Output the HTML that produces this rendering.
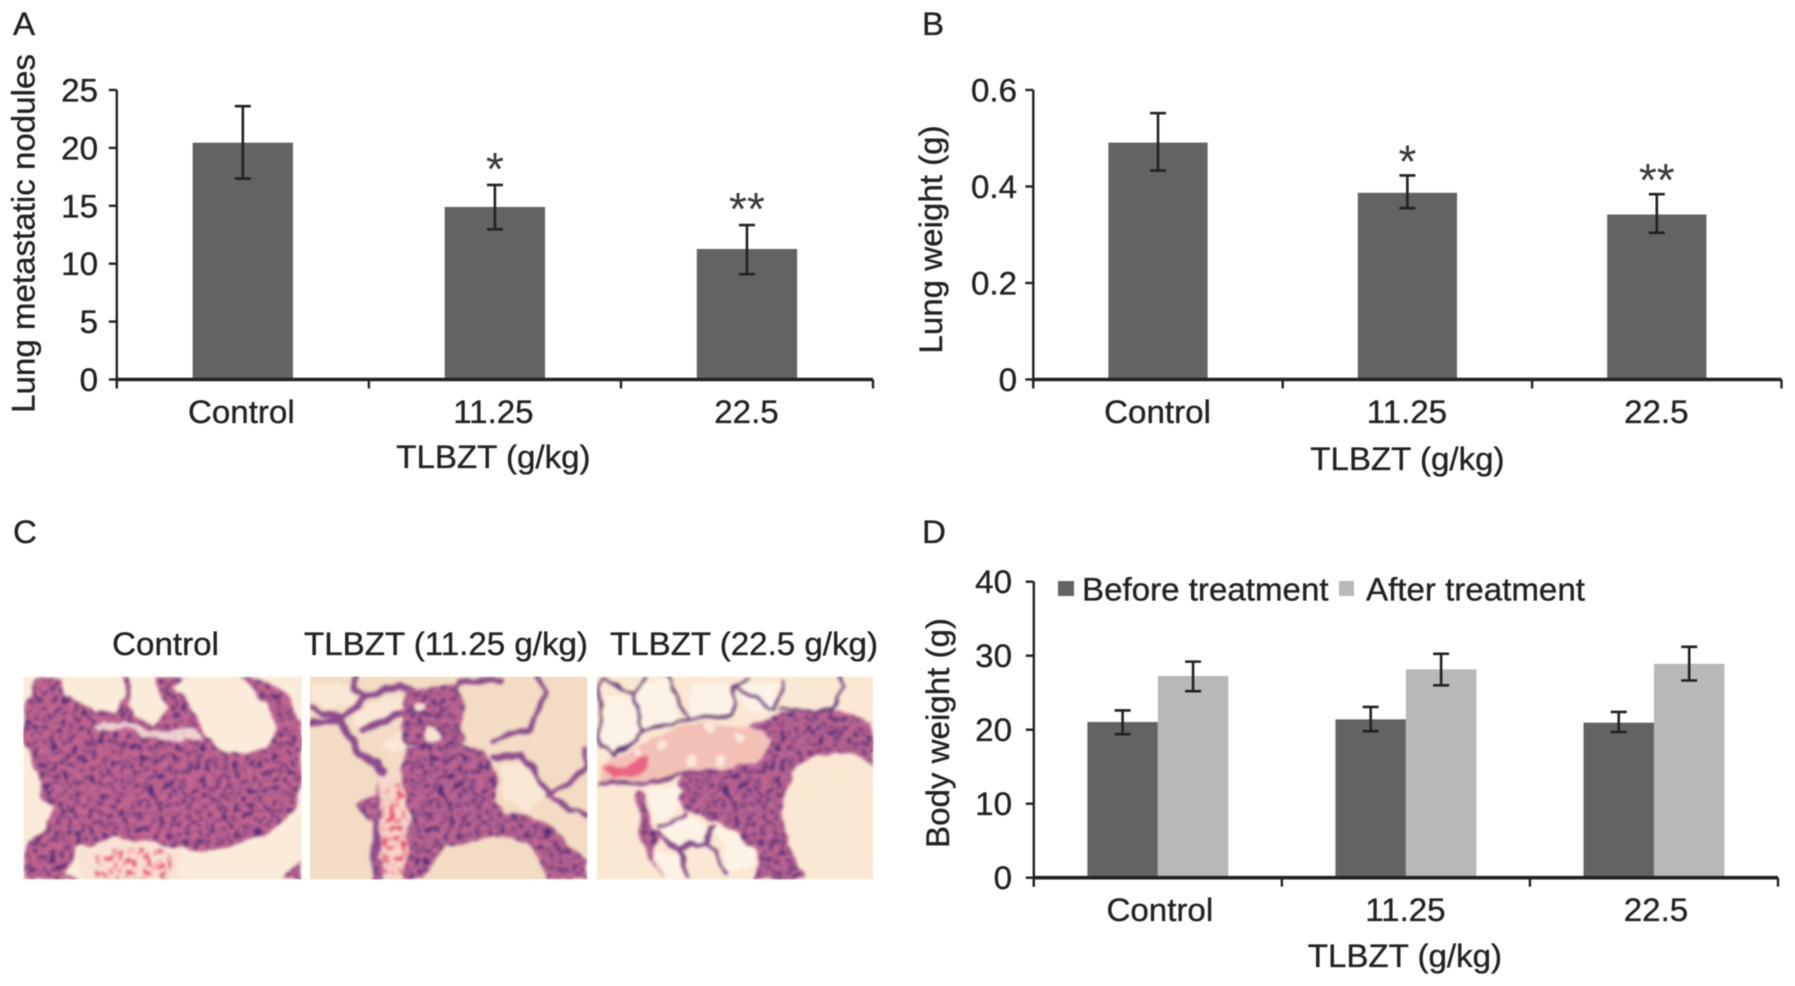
<!DOCTYPE html>
<html lang="en">
<head>
<meta charset="utf-8">
<title>TLBZT lung metastasis figure</title>
<style>
html,body{margin:0;padding:0;background:#fff;width:1795px;height:986px;overflow:hidden}
#figure{display:block;filter:blur(.6px)}
text{font-family:"Liberation Sans",sans-serif;fill:#222;stroke:#222;stroke-width:.35px}
</style>
</head>
<body>
<svg id="figure" xmlns="http://www.w3.org/2000/svg" width="1795" height="986" viewBox="0 0 1795 986">
  <defs>
    <filter id="nuclei" x="0" y="0" width="100%" height="100%" color-interpolation-filters="sRGB">
      <feTurbulence type="fractalNoise" baseFrequency="0.07" numOctaves="2" seed="7"/>
      <feColorMatrix type="matrix" values="0 0 0 0 .29  0 0 0 0 .16  0 0 0 0 .45  5 0 0 0 -2.45"/>
    </filter>
    <filter id="specks" x="0" y="0" width="100%" height="100%" color-interpolation-filters="sRGB">
      <feTurbulence type="fractalNoise" baseFrequency="0.06" numOctaves="2" seed="3"/>
      <feColorMatrix type="matrix" values="0 0 0 0 .9  0 0 0 0 .3  0 0 0 0 .42  6 0 0 0 -3"/>
    </filter>
    <filter id="soften" x="-5%" y="-5%" width="110%" height="110%" color-interpolation-filters="sRGB">
      <feTurbulence type="fractalNoise" baseFrequency="0.018" numOctaves="2" seed="11" result="warp"/>
      <feDisplacementMap in="SourceGraphic" in2="warp" scale="34" xChannelSelector="R" yChannelSelector="G" result="bent"/>
      <feGaussianBlur in="bent" stdDeviation="4.4"/>
    </filter>
    <clipPath id="clip-a"><path d="M40 130L70 100 80 55 150 50 165 110 230 150 320 155 340 110 338 50 350 50 355 130 385 175 440 195 465 150 440 50 520 50 495 85 540 130 560 170 580 220 640 270 700 285 770 260 800 200 770 130 690 50 740 55 800 75 850 120 875 200 875 400 850 450 790 510 700 550 620 570 520 570 420 540 300 540 200 560 170 640 205 658 40 658 40 560 110 500 130 440 100 420 60 280 40 240Z M815 658L875 600 875 658Z"/></clipPath>
    <clipPath id="clip-b"><path d="M320 260L400 240 470 250 550 270 590 340 590 420 620 460 700 470 760 510 862 600 862 658 740 658 700 560 640 530 560 540 440 555 410 600 370 658 310 658 320 560 335 470 310 400 300 330Z M320 90L480 70 490 250 320 250 300 200Z M170 435L240 405 245 470 205 480Z M215 658L230 560 245 590 250 658Z"/></clipPath>
    <clipPath id="clip-c"><path d="M500 190L640 150 760 155 865 190 865 320 800 280 680 290 620 330 600 420 595 520 655 658 500 658 530 610 480 530 380 480 300 450 280 420 290 345 440 330 530 300 560 240Z M150 390L185 400 195 500 225 530 200 600 240 658 190 600 165 510Z"/></clipPath>
    <clipPath id="frame-a"><rect x="40" y="50" width="835" height="608"/></clipPath>
    <clipPath id="frame-b"><rect x="30" y="50" width="832" height="608"/></clipPath>
    <clipPath id="frame-c"><rect x="35" y="50" width="830" height="608"/></clipPath>
  </defs>

  <g id="histology">
    <g transform="translate(10,660) scale(.33333)" clip-path="url(#frame-a)">
      <rect x="40" y="50" width="835" height="608" fill="#fbecd9"/>
      <g filter="url(#soften)">
        <g clip-path="url(#clip-a)">
          <rect x="0" y="0" width="920" height="700" fill="#c4668f"/>
          <rect x="0" y="0" width="920" height="700" filter="url(#nuclei)"/>
        </g>
        <path d="M250 190L330 190 420 205 555 205 580 235 500 245 420 235 340 210 260 215Z" fill="#f9e6dc" opacity=".85"/>
        <path d="M205 570L300 545 420 545 520 590 500 658 205 658Z" fill="#f9e2d4"/>
        <rect x="260" y="570" width="220" height="85" filter="url(#specks)"/>
      </g>
    </g>
    <g transform="translate(300,660) scale(.33333)" clip-path="url(#frame-b)">
      <rect x="30" y="50" width="832" height="608" fill="#f3dcc3"/>
      <g filter="url(#soften)">
        <path d="M45 70H150L170 120 90 150 40 120Z M150 160L300 100 310 140 190 210Z M240 260L300 210 320 250 280 280Z M600 310L680 310 740 410 690 460 610 420Z" fill="#f9e8d4"/>
        <g fill="none" stroke="#8a4a8c" stroke-linecap="round" stroke-linejoin="round">
          <path stroke-width="20" d="M30 140L70 160 130 170 200 110 300 75 330 90M165 50L160 80 190 115M30 195L100 185 130 170M190 210L320 150M480 65L600 60"/>
          <path stroke-width="26" d="M115 170L165 270 250 330 235 470 225 658"/>
          <path stroke-width="15" d="M580 290L660 280 760 420 862 470M580 240L680 210 740 100 710 50M740 410L862 320 850 260"/>
          <path stroke-width="14" d="M320 260L345 440 320 560"/>
        </g>
        <g clip-path="url(#clip-b)">
          <rect x="0" y="0" width="920" height="700" fill="#bd6590"/>
          <rect x="0" y="0" width="920" height="700" filter="url(#nuclei)"/>
        </g>
        <path d="M235 340L290 350 325 480 325 560 300 658 250 658 240 500Z" fill="#f6d6c8"/>
        <rect x="245" y="380" width="75" height="260" filter="url(#specks)"/>
        <circle cx="395" cy="225" r="26" fill="#f7e3d2"/>
        <circle cx="360" cy="140" r="18" fill="#f7e3d2"/>
      </g>
    </g>
    <g transform="translate(585,660) scale(.33333)" clip-path="url(#frame-c)">
      <rect x="35" y="50" width="830" height="608" fill="#fbe8d3"/>
      <g filter="url(#soften)">
        <path d="M60 110L145 110 170 210 90 280 50 240Z M175 60H250L285 180 180 205 150 100Z M320 70L440 70 440 160 320 175Z M470 70L570 70 575 150 470 160Z M190 385L290 370 280 440 210 490Z M225 510L300 460 370 500 360 550 280 560Z M210 570L280 580 300 658 240 658Z M390 500L480 530 520 610 440 640Z" fill="#fdf2e6"/>
        <path d="M50 320L170 250 290 195 500 190 560 240 530 300 440 330 290 340 170 370 50 370Z" fill="#f3c0b6"/>
        <path d="M55 320L100 325 190 285 190 335 80 360Z" fill="#e8667f"/>
        <g fill="#fbe8dc">
          <circle cx="230" cy="255" r="16"/><circle cx="320" cy="300" r="20"/><circle cx="405" cy="300" r="18"/><circle cx="370" cy="210" r="16"/><circle cx="460" cy="230" r="16"/><circle cx="155" cy="280" r="12"/>
        </g>
        <g fill="none" stroke="#5a3570" stroke-linecap="round" stroke-linejoin="round">
          <path stroke-width="8" d="M45 110L55 55M60 55L145 100 185 50M145 100L175 210 90 290 45 250 45 110"/>
          <path stroke-width="8" d="M250 50L310 180 440 165 450 80 490 55M450 80L575 150 590 60M175 210L260 190 310 180M590 150L740 150 780 80 760 50"/>
          <path stroke-width="11" stroke="#7d4584" d="M220 500L300 460M220 520L280 565 370 550 385 500M370 550L430 640M285 570L310 650"/>
          <path stroke-width="11" stroke="#7d4584" d="M45 370L170 372 290 342 440 330"/>
        </g>
        <g clip-path="url(#clip-c)">
          <rect x="0" y="0" width="920" height="700" fill="#bd6590"/>
          <rect x="0" y="0" width="920" height="700" filter="url(#nuclei)"/>
        </g>
      </g>
    </g>
  </g>
  <g id="charts"></g>
</svg>

<script>
// Panel A – lung metastatic nodules
const categories = ['Control', '11.25', '22.5'];
const noduleValues = [20.45, 14.9, 11.27];
const noduleErrHigh = [23.6, 16.8, 13.34];
const noduleErrLow = [17.35, 12.97, 9.1];
const noduleTicks = ['0', '5', '10', '15', '20', '25'];
const noduleTickValues = [0, 5, 10, 15, 20, 25];
const noduleStars = ['', '*', '**'];

// Panel B – lung weight
const weightValues = [0.491, 0.387, 0.342];
const weightErrHigh = [0.552, 0.423, 0.384];
const weightErrLow = [0.433, 0.355, 0.304];
const weightTicks = ['0', '0.2', '0.4', '0.6'];
const weightTickValues = [0, 0.2, 0.4, 0.6];
const weightStars = ['', '*', '**'];

// Panel D – body weight
const beforeValues = [21.04, 21.4, 20.95];
const beforeErrHigh = [22.6, 23.07, 22.4];
const beforeErrLow = [19.4, 19.8, 19.7];
const afterValues = [27.26, 28.16, 28.9];
const afterErrHigh = [29.2, 30.25, 31.2];
const afterErrLow = [25.2, 26, 26.65];
const bodyTicks = ['0', '10', '20', '30', '40'];
const bodyTickValues = [0, 10, 20, 30, 40];

const root = document.getElementById('charts');
const NS = 'http://www.w3.org/2000/svg';
const DARK = '#636363';
const LIGHT = '#b8b8b8';
const INK = '#222222';

function line(parent, x1, y1, x2, y2, w, name) {
  const el = document.createElementNS(NS, 'line');
  el.setAttribute('x1', x1);
  el.setAttribute('y1', y1);
  el.setAttribute('x2', x2);
  el.setAttribute('y2', y2);
  el.setAttribute('stroke', INK);
  el.setAttribute('stroke-width', w);
  
  
  parent.appendChild(el);
  return el;
}
function box(parent, x, y, w, h, fill, name) {
  const el = document.createElementNS(NS, 'rect');
  el.setAttribute('x', x);
  el.setAttribute('y', y);
  el.setAttribute('width', w);
  el.setAttribute('height', h);
  el.setAttribute('fill', fill);
  
  
  parent.appendChild(el);
  return el;
}
// Text is drawn slightly wider than tall to match the stretched source figure.
function label(parent, str, x, y, anchor, name, size, rotate) {
  const el = document.createElementNS(NS, 'text');
  el.textContent = str;
  el.setAttribute('text-anchor', anchor);
  el.setAttribute('font-size', size || 32);
  if (size) {
    el.style.strokeWidth = '0';
    el.style.fill = '#3a3a3a';
  }
  const sx = size ? 1 : 1.035;
  const rot = rotate ? ' rotate(-90)' : '';
  el.setAttribute('transform', 'translate(' + x + ',' + y + ')' + rot + ' scale(' + sx + ',1)');
  
  
  parent.appendChild(el);
  return el;
}
function group(name) {
  const el = document.createElementNS(NS, 'g');
  
  
  root.appendChild(el);
  return el;
}

function axes(g, p, tickVals, tickText) {
  const yOf = v => p.y0 - v / p.max * (p.y0 - p.yTop);
  line(g, p.x0, p.yTop, p.x0, p.y0 + 9, 2.4, 'y-axis');
  line(g, p.x0, p.y0, p.x1, p.y0, 3.6, 'x-axis');
  tickVals.forEach((v, i) => {
    line(g, p.x0 - 8, yOf(v), p.x0, yOf(v), 2.4, 'y-tick');
    label(g, tickText[i], p.tickRight, yOf(v) + 11.5, 'end', 'y-tick-label');
  });
  const band = (p.x1 - p.x0) / categories.length;
  for (let i = 0; i <= categories.length; i++) {
    line(g, p.x0 + band * i, p.y0, p.x0 + band * i, p.y0 + 9, 2.4, 'x-tick');
  }
  categories.forEach((c, i) => {
    label(g, c, p.x0 + band * (i + .5) + p.catShift[i], p.catBase, 'middle', 'x-tick-label');
  });
  label(g, 'TLBZT (g/kg)', p.x0 + band * 1.5 + p.titleShift, p.titleBase, 'middle', 'x-axis-title');
  label(g, p.yTitle, p.yTitleX, p.yTitleY, 'middle', 'y-axis-title', 0, true);
  label(g, p.letter, p.letterX, p.letterY, 'start', 'panel-letter');
  return { yOf, band };
}
function errorBar(g, x, yHigh, yLow) {
  line(g, x, yHigh, x, yLow, 2.6, 'error-bar');
  line(g, x - 8, yHigh, x + 8, yHigh, 2.6, 'error-cap-high');
  line(g, x - 8, yLow, x + 8, yLow, 2.6, 'error-cap-low');
}
function singleChart(p, values, errHigh, errLow, tickVals, tickText, stars) {
  const g = group(p.name);
  const widthFrac = 0.398;
  const band = (p.x1 - p.x0) / categories.length;
  const yOf = v => p.y0 - v / p.max * (p.y0 - p.yTop);
  values.forEach((v, i) => {
    const cx = p.x0 + band * (i + .5);
    const w = band * widthFrac;
    box(g, cx - w / 2, yOf(v), w, p.y0 - yOf(v), DARK, 'bar-' + categories[i]);
    errorBar(g, cx, yOf(errHigh[i]), yOf(errLow[i]));
    if (stars[i]) {
      label(g, stars[i], cx, yOf(errHigh[i]) + p.starGap, 'middle', 'significance-marker', 46);
    }
  });
  axes(g, p, tickVals, tickText);
}

singleChart({
  name: 'chart-lung-nodules', x0: 116.8, x1: 873, y0: 379.5, yTop: 90, max: 25,
  tickRight: 98, catBase: 423, titleBase: 468, titleShift: -1.5, catShift: [-1.5, -1.5, -0.5],
  yTitle: 'Lung metastatic nodules', yTitleX: 34.5, yTitleY: 233.5,
  letter: 'A', letterX: 13, letterY: 35, starGap: 0
}, noduleValues, noduleErrHigh, noduleErrLow, noduleTickValues, noduleTicks, noduleStars);

singleChart({
  name: 'chart-lung-weight', x0: 1033.3, x1: 1781.5, y0: 379.5, yTop: 90, max: 0.6,
  tickRight: 1017, catBase: 423, titleBase: 470, titleShift: 0, catShift: [-0.5, -0.5, -0.5],
  yTitle: 'Lung weight (g)', yTitleX: 942, yTitleY: 239.5,
  letter: 'B', letterX: 922, letterY: 35, starGap: 2
}, weightValues, weightErrHigh, weightErrLow, weightTickValues, weightTicks, weightStars);

(function bodyChart() {
  const p = {
    x0: 1033.8, x1: 1778, y0: 877.7, yTop: 581.7, max: 40,
    tickRight: 1012, catBase: 921, titleBase: 967, titleShift: -1, catShift: [2, -0.5, 2],
    yTitle: 'Body weight (g)', yTitleX: 949, yTitleY: 733,
    letter: 'D', letterX: 922, letterY: 543
  };
  const g = group('chart-body-weight');
  const band = (p.x1 - p.x0) / categories.length;
  const w = band * 0.284;
  const yOf = v => p.y0 - v / p.max * (p.y0 - p.yTop);
  categories.forEach((c, i) => {
    const cx = p.x0 + band * (i + .5);
    box(g, cx - w, yOf(beforeValues[i]), w, p.y0 - yOf(beforeValues[i]), DARK, 'bar-before-' + c);
    box(g, cx, yOf(afterValues[i]), w, p.y0 - yOf(afterValues[i]), LIGHT, 'bar-after-' + c);
    errorBar(g, cx - w / 2, yOf(beforeErrHigh[i]), yOf(beforeErrLow[i]));
    errorBar(g, cx + w / 2, yOf(afterErrHigh[i]), yOf(afterErrLow[i]));
  });
  axes(g, p, bodyTickValues, bodyTicks);
  const legend = group('legend');
  box(legend, 1058, 581, 16, 15, DARK, 'legend-swatch-before');
  label(legend, 'Before treatment', 1082, 600.7, 'start', 'legend-label-before');
  box(legend, 1339, 581, 15, 15, LIGHT, 'legend-swatch-after');
  label(legend, 'After treatment', 1366, 600.7, 'start', 'legend-label-after');
})();

const panelC = group('panel-c-labels');
label(panelC, 'C', 13, 543, 'start', 'panel-letter');
label(panelC, 'Control', 165.5, 655, 'middle', 'micrograph-title-control');
label(panelC, 'TLBZT (11.25 g/kg)', 446, 655, 'middle', 'micrograph-title-low-dose');
label(panelC, 'TLBZT (22.5 g/kg)', 744, 655, 'middle', 'micrograph-title-high-dose');
</script>
</body>
</html>
